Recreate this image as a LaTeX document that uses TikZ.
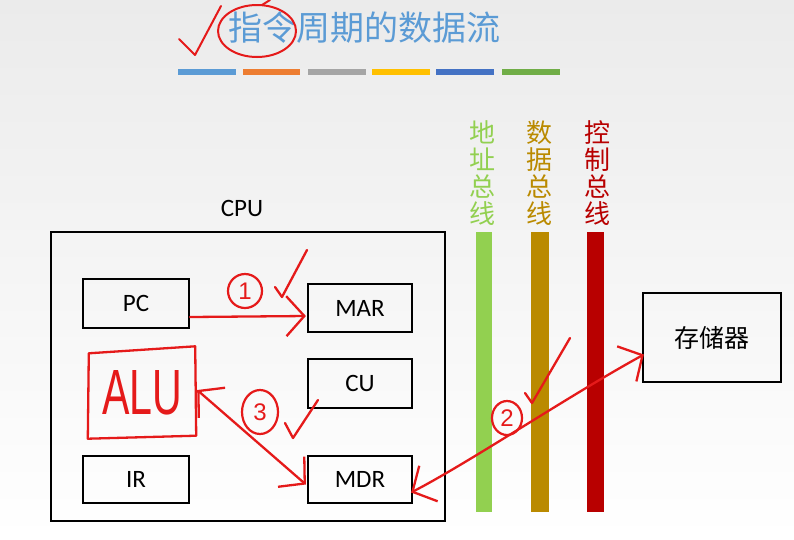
\documentclass[tikz,border=0pt]{standalone}
\usepackage{fontspec}
\setmainfont{Carlito}
\newfontfamily\cjk{Noto Sans CJK SC}
\newfontfamily\hand{Liberation Sans}
\usetikzlibrary{arrows.meta,shapes.geometric,calc}
\definecolor{tblue}{HTML}{5B9BD5}
\definecolor{borange}{HTML}{ED7D31}
\definecolor{bgray}{HTML}{A5A5A5}
\definecolor{byellow}{HTML}{FFC000}
\definecolor{bdblue}{HTML}{4472C4}
\definecolor{bgreen}{HTML}{70AD47}
\definecolor{busg}{HTML}{92D050}
\definecolor{busb}{HTML}{BA8A00}
\definecolor{busr}{HTML}{B80000}
\definecolor{handred}{HTML}{E51A1A}
\definecolor{bgtop}{HTML}{EBEBEB}
\tikzset{
  box/.style={draw=black, line width=2.2pt, inner sep=0pt, font=\fontsize{25}{30}\selectfont},
  handline/.style={draw=handred, line width=2.3pt, line cap=round, line join=round},
  handarrow/.style={handline, -{Straight Barb[length=18pt,width=40pt,line width=2.3pt]}},
  handboth/.style={handline, {Straight Barb[length=18pt,width=40pt,line width=2.3pt]}-{Straight Barb[length=18pt,width=40pt,line width=2.3pt]}},
  circnum/.style={ellipse, draw=handred, line width=2.2pt, inner sep=0pt, text=handred, font=\hand\fontsize{24}{26}\selectfont},
  buslabel/.style={align=center, inner sep=0pt, font=\cjk\fontsize{26}{27}\selectfont}
}
\begin{document}
\begin{tikzpicture}[x=1pt,y=-1pt]
\shade[top color=bgtop, bottom color=white] (0,0) rectangle (794,539);
\useasboundingbox (0,0) rectangle (794,539);

% title
\node[text=tblue, inner sep=0pt, font=\cjk\fontsize{34}{40}\selectfont] (title) at (364.5,28) {指令周期的数据流};
\fill[tblue]   (178,69) rectangle (236,75);
\fill[borange] (243,69) rectangle (300,75);
\fill[bgray]   (308,69) rectangle (366,75);
\fill[byellow] (372,69) rectangle (430,75);
\fill[bdblue]  (436,69) rectangle (494,75);
\fill[bgreen]  (502,69) rectangle (560,75);

% title handwriting
\draw[handline, line width=2pt] (179,39) -- (195,55) -- (221,6);
\draw[handline, line width=2pt] (257,31) ellipse [x radius=39, y radius=26];
\draw[handline, line width=2pt] (262,5) -- (270,0);

% CPU
\node[font=\fontsize{25}{30}\selectfont, inner sep=0pt] (cpulbl) at (242,208) {CPU};
\node[box, minimum width=394pt, minimum height=289pt] (cpu) at (248,376.5) {};
\node[box, minimum width=106pt, minimum height=49pt] (pc)  at (136,303.5) {PC};
\node[box, minimum width=104pt, minimum height=48pt] (mar) at (360,308) {MAR};
\node[box, minimum width=104pt, minimum height=49pt] (cu)  at (360,383.5) {CU};
\node[box, minimum width=106pt, minimum height=47pt] (ir)  at (136,479.5) {IR};
\node[box, minimum width=104pt, minimum height=47pt] (mdr) at (360,479.5) {MDR};

% buses
\fill[busg] (476,232) rectangle (492,512);
\fill[busb] (531,232) rectangle (549,512);
\fill[busr] (587,232) rectangle (604,512);
\node[buslabel, text=busg] (labg) at (482,173) {地\\址\\总\\线};
\node[buslabel, text=busb] (labb) at (539,173) {数\\据\\总\\线};
\node[buslabel, text=busr] (labr) at (597,173) {控\\制\\总\\线};

% memory
\node[box, minimum width=138pt, minimum height=89pt, font=\cjk\fontsize{25}{30}\selectfont] (mem) at (712,337.5) {存储器};

% ALU handwritten
\node[inner sep=0pt, minimum width=106pt, minimum height=85pt, text=handred, font=\hand] (alu) at (142,393) {\resizebox{80pt}{44pt}{ALU}};
\draw[handline] ($(alu.north west)+(0,3)$) -- ($(alu.north east)+(0,-4)$) -- ($(alu.south east)+(1,0)$) -- ($(alu.south west)+(-1,3)$) -- cycle;

% step 1
\draw[handarrow] ($(pc.east)+(0,13.5)$) -- ($(mar.west)+(-1,8)$);
\node[circnum, minimum width=34pt, minimum height=34pt] (c1) at (245,291) {1};
\draw[handline] (275,287) -- (282,297) -- (307,250);

% step 2
\draw[handboth] ($(mdr.east)+(-2,13)$) .. controls (470,462) and (570,395) .. ($(mem.west)+(2,17)$);
\node[circnum, minimum width=30pt, minimum height=34pt] (c2) at (507,418) {2};
\draw[handline] (525,393) -- (532,403) -- (570,338);

% step 3
\draw[handboth] ($(alu.east)+(2,-3)$) -- ($(mdr.west)+(-1,5)$);
\node[circnum, minimum width=36pt, minimum height=44pt] (c3) at (260,412) {3};
\draw[handline] (285,423) -- (293,438) -- (318,400);
\end{tikzpicture}
\end{document}
